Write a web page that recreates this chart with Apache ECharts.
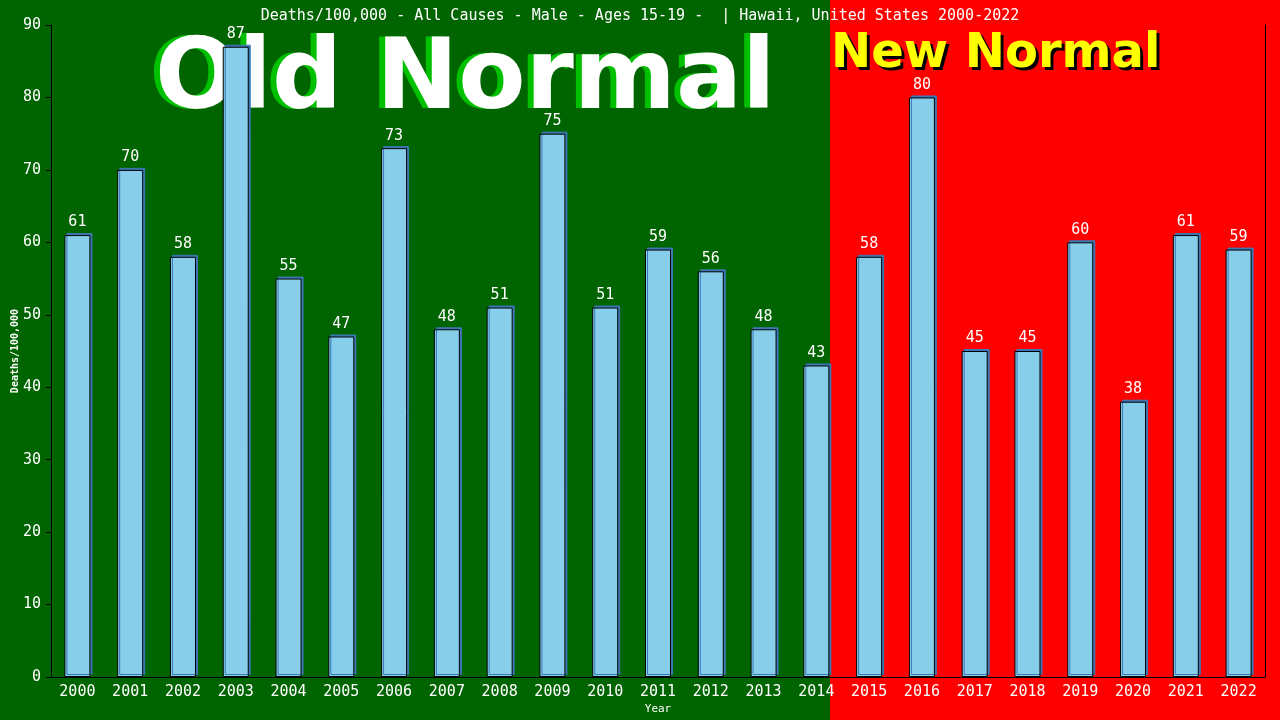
<!DOCTYPE html>
<html><head><meta charset="utf-8">
<script src="https://cdn.jsdelivr.net/npm/echarts@6/dist/echarts.min.js"></script>
<style>html,body{margin:0;padding:0;background:#006400}#c{width:1280px;height:720px}</style>
</head><body><div id="c"></div>
<script>
var years = ['2000','2001','2002','2003','2004','2005','2006','2007','2008','2009','2010','2011','2012','2013','2014','2015','2016','2017','2018','2019','2020','2021','2022'];
var deaths = [61,70,58,87,55,47,73,48,51,75,51,59,56,48,43,58,80,45,45,60,38,61,59];
var yTicks = [0,10,20,30,40,50,60,70,80,90];
var titleText = 'Deaths/100,000 - All Causes - Male - Ages 15-19 -  | Hawaii, United States 2000-2022';

var chart = echarts.init(document.getElementById('c'));
var mono = 'DejaVu Sans Mono';
var bigFont = 'bold 98px "DejaVu Sans"';
var newFont = 'bold 48px "DejaVu Sans"';
chart.setOption({
  backgroundColor: '#006400',
  animation: false,
  title: {text: titleText, left: 'center', top: 4, textStyle: {color: '#fff', fontFamily: mono, fontSize: 15, fontWeight: 'normal'}},
  graphic: [
    {type: 'rect', z: -10, silent: true, shape: {x: 830, y: 0, width: 450, height: 720}, style: {fill: '#ff0000'}},
    {type: 'text', z: -5, silent: true, style: {x: 149, y: 34, text: 'Old Normal', fill: '#00c000', font: bigFont}},
    {type: 'text', z: -4, silent: true, style: {x: 155, y: 34, text: 'Old Normal', fill: '#ffffff', font: bigFont}},
    {type: 'text', z: -5, silent: true, style: {x: 834, y: 34, text: 'New Normal', fill: '#000000', font: newFont}},
    {type: 'text', z: -4, silent: true, style: {x: 831, y: 31, text: 'New Normal', fill: '#ffff00', font: newFont}}
  ],
  grid: {left: 51, right: 15, top: 25, bottom: 43, containLabel: false, outerBoundsMode: 'none'},
  xAxis: {
    type: 'category', data: years,
    name: 'Year', nameLocation: 'middle', nameGap: 27, nameMoveOverlap: false,
    nameTextStyle: {color: '#fff', fontFamily: mono, fontSize: 11},
    axisLine: {lineStyle: {color: '#000', width: 1}},
    axisTick: {show: false},
    axisLabel: {color: '#fff', fontFamily: mono, fontSize: 15, margin: 8}
  },
  yAxis: [{
    type: 'value', min: 0, max: 90, interval: 10,
    name: 'Deaths/100,000', nameLocation: 'middle', nameGap: 31, nameMoveOverlap: false,
    nameTextStyle: {color: '#fff', fontFamily: mono, fontSize: 10, fontWeight: 'bold'},
    axisLine: {show: true, lineStyle: {color: '#000', width: 1}},
    axisTick: {show: true, length: 5, lineStyle: {color: '#000'}},
    axisLabel: {color: '#fff', fontFamily: mono, fontSize: 15, margin: 10,
      formatter: function (v) { return yTicks.indexOf(v) >= 0 ? String(v) : ''; }},
    splitLine: {show: false}
  }, {
    type: 'value', min: 0, max: 90, position: 'right',
    axisLine: {show: true, lineStyle: {color: '#000', width: 1}},
    axisTick: {show: false}, axisLabel: {show: false}, splitLine: {show: false}
  }],
  series: [{
    type: 'bar', data: deaths, barWidth: 26, zlevel: 1,
    itemStyle: {color: '#87ceeb', borderColor: '#000', borderWidth: 1,
      shadowColor: '#3c78b4', shadowOffsetX: 2, shadowOffsetY: -2, shadowBlur: 0},
    label: {show: true, position: 'top', distance: 5, color: '#fff', fontFamily: mono, fontSize: 15}
  }]
});
</script></body></html>
